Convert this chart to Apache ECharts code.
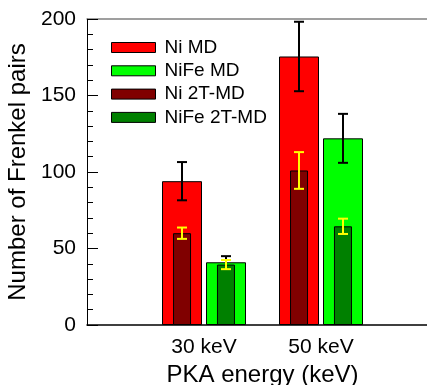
<!DOCTYPE html>
<html>
<head>
<meta charset="utf-8">
<script src="https://cdn.jsdelivr.net/npm/echarts@6/dist/echarts.min.js"></script>
<style>
html,body{margin:0;padding:0;background:#fff;}
#chart{width:427px;height:385px;}
</style>
</head>
<body>
<div id="chart"></div>
<script>
// ---- data ----
const energies = ['30 keV', '50 keV'];
const niMD = [94, 175.5];
const niMDErr = [12.5, 22.7];
const nifeMD = [41, 122];
const nifeMDErr = [4, 16];
const ni2T = [60, 101];
const ni2TErr = [3.7, 12];
const nife2T = [39.5, 64.5];
const nife2TErr = [3, 5];
const yTicks = [0, 50, 100, 150, 200];

// ---- build ----
const FONT = '"Liberation Sans", Arial, sans-serif';
const cats = [''].concat(energies, ['']);
function pairs(vals) { return energies.map((e, i) => [e, vals[i]]); }
function errPairs(vals, errs) { return energies.map((e, i) => [e, vals[i], errs[i]]); }

function errRender(offset, color, hw) {
  return function (params, api) {
    const c = api.value(0), v = api.value(1), e = api.value(2);
    const hi = api.coord([c, v + e]);
    const lo = api.coord([c, v - e]);
    const x = hi[0] + offset;
    const st = { stroke: color, lineWidth: 2 };
    return {
      type: 'group',
      children: [
        { type: 'line', shape: { x1: x, y1: hi[1], x2: x, y2: lo[1] }, style: st },
        { type: 'line', shape: { x1: x - hw, y1: hi[1], x2: x + hw, y2: hi[1] }, style: st },
        { type: 'line', shape: { x1: x - hw, y1: lo[1], x2: x + hw, y2: lo[1] }, style: st }
      ]
    };
  };
}

const chart = echarts.init(document.getElementById('chart'), null, { renderer: 'canvas' });
const barBorder = { borderColor: '#000', borderWidth: 1 };
chart.setOption({
  animation: false,
  backgroundColor: '#fff',
  textStyle: { fontFamily: FONT },
  grid: { left: 87, width: 351, top: 19, height: 306, containLabel: false, outerBoundsMode: 'none' },
  legend: {
    left: 111, top: 38, orient: 'vertical', padding: 0,
    itemWidth: 44, itemHeight: 10, itemGap: 4.3, icon: 'rect',
    itemStyle: { borderColor: '#000', borderWidth: 1 },
    textStyle: { fontSize: 19, lineHeight: 19, color: '#000', fontFamily: FONT, padding: [0, 0, 0, 4] },
    data: ['Ni MD', 'NiFe MD', 'Ni 2T-MD', 'NiFe 2T-MD']
  },
  xAxis: [
    {
      type: 'category', data: cats, boundaryGap: false, position: 'bottom',
      name: 'PKA energy (keV)', nameLocation: 'middle', nameGap: 33,
      nameTextStyle: { fontSize: 24, color: '#000', fontFamily: FONT },
      axisLine: { show: true, onZero: false, lineStyle: { color: '#000', width: 1.5 } },
      axisTick: { show: false },
      axisLabel: { fontSize: 21, color: '#000', margin: 12, fontFamily: FONT, interval: 0 },
      splitLine: { show: false }
    },
    {
      type: 'category', data: cats, boundaryGap: false, position: 'top',
      axisLine: { show: true, onZero: false, lineStyle: { color: '#808080', width: 1.5 } },
      axisTick: { show: false }, axisLabel: { show: false }, splitLine: { show: false }
    }
  ],
  yAxis: [
    {
      type: 'value', min: yTicks[0], max: yTicks[yTicks.length - 1], interval: 50,
      name: 'Number of Frenkel pairs', nameLocation: 'middle', nameGap: 51,
      nameTextStyle: { fontSize: 24, color: '#000', fontFamily: FONT },
      axisLine: { show: true, onZero: false, lineStyle: { color: '#000', width: 1 } },
      axisTick: { show: true, inside: true, length: 11, lineStyle: { color: '#000' } },
      minorTick: { show: true, splitNumber: 5, length: 6, lineStyle: { color: '#000' } },
      axisLabel: { fontSize: 21, color: '#000', margin: 11, fontFamily: FONT },
      splitLine: { show: false }, minorSplitLine: { show: false }
    },
    {
      type: 'value', min: yTicks[0], max: yTicks[yTicks.length - 1], interval: 50, position: 'right',
      axisLine: { show: true, onZero: false, lineStyle: { color: '#000', width: 1 } },
      axisTick: { show: true, inside: true, length: 11, lineStyle: { color: '#000' } },
      axisLabel: { show: false }, splitLine: { show: false }
    }
  ],
  series: [
    { name: 'Ni MD', type: 'bar', xAxisIndex: 0, barWidth: 40, barGap: '10%', z: 2,
      itemStyle: Object.assign({ color: '#ff0000' }, barBorder), data: pairs(niMD) },
    { name: 'NiFe MD', type: 'bar', xAxisIndex: 0, barWidth: 40, barGap: '10%', z: 2,
      itemStyle: Object.assign({ color: '#00ff00' }, barBorder), data: pairs(nifeMD) },
    { type: 'custom', xAxisIndex: 0, z: 3, renderItem: errRender(-22, '#000', 5),
      encode: { x: 0, y: 1 }, data: errPairs(niMD, niMDErr) },
    { type: 'custom', xAxisIndex: 0, z: 3, renderItem: errRender(22, '#000', 5),
      encode: { x: 0, y: 1 }, data: errPairs(nifeMD, nifeMDErr) },
    { name: 'Ni 2T-MD', type: 'bar', xAxisIndex: 1, barWidth: 18, barGap: '144%', z: 4,
      itemStyle: Object.assign({ color: '#800000' }, barBorder), data: pairs(ni2T) },
    { name: 'NiFe 2T-MD', type: 'bar', xAxisIndex: 1, barWidth: 18, barGap: '144%', z: 4,
      itemStyle: Object.assign({ color: '#008000' }, barBorder), data: pairs(nife2T) },
    { type: 'custom', xAxisIndex: 1, z: 5, renderItem: errRender(-22, '#ffff00', 5),
      encode: { x: 0, y: 1 }, data: errPairs(ni2T, ni2TErr) },
    { type: 'custom', xAxisIndex: 1, z: 5, renderItem: errRender(22, '#ffff00', 5),
      encode: { x: 0, y: 1 }, data: errPairs(nife2T, nife2TErr) }
  ]
});
</script>
</body>
</html>
